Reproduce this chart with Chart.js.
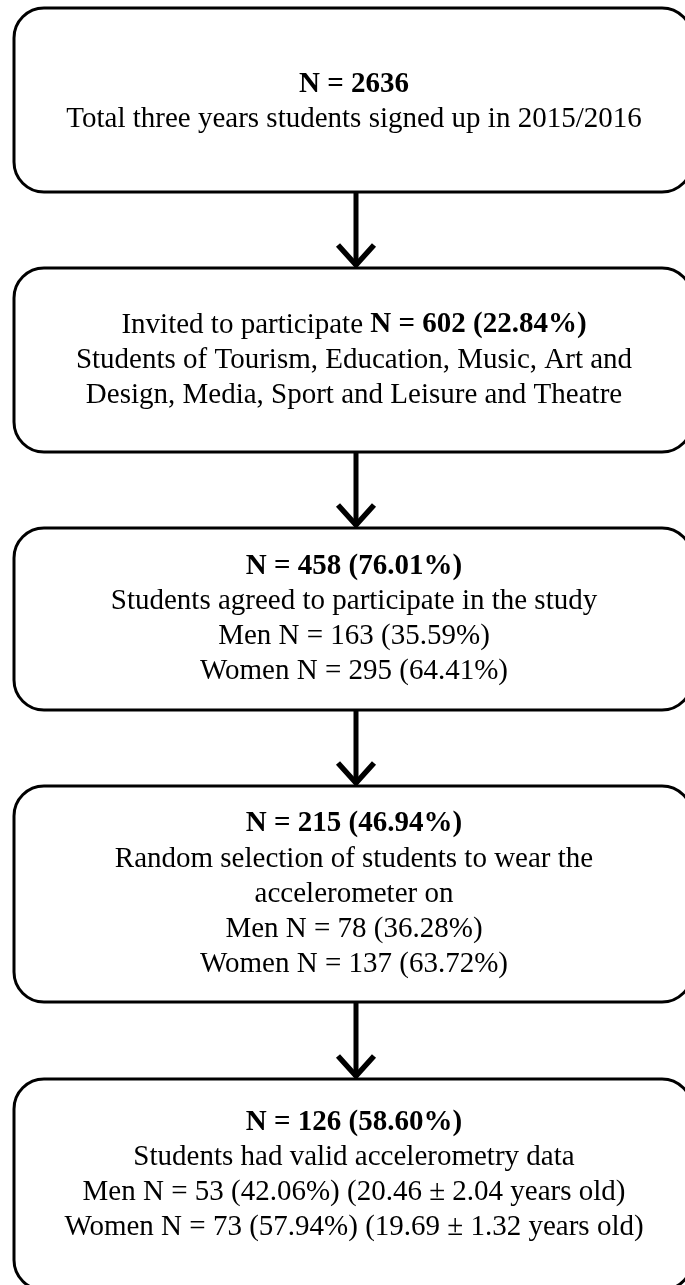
<!DOCTYPE html>
<html>
<head>
<meta charset="utf-8">
<script src="https://cdn.jsdelivr.net/npm/chart.js@4"></script>
<style>
  html, body { margin: 0; padding: 0; background: #ffffff; }
  #wrap { width: 685px; height: 1285px; position: relative; }
</style>
</head>
<body>
<div id="wrap"><canvas id="c"></canvas></div>
<script>
// ---- data ----
const stepCounts   = [2636, 602, 458, 215, 126];
const stepPercents = [null, 22.84, 76.01, 46.94, 58.60];
const stepLabels   = [
  "Total three years students signed up in 2015/2016",
  "Students of Tourism, Education, Music, Art and|Design, Media, Sport and Leisure and Theatre",
  "Students agreed to participate in the study",
  "Random selection of students to wear the|accelerometer on",
  "Students had valid accelerometry data"
];
const menCounts    = [null, null, 163, 78, 53];
const menPercents  = [null, null, 35.59, 36.28, 42.06];
const womenCounts  = [null, null, 295, 137, 73];
const womenPercents= [null, null, 64.41, 63.72, 57.94];
const menAge       = [null, null, null, null, "20.46 \u00B1 2.04"];
const womenAge     = [null, null, null, null, "19.69 \u00B1 1.32"];

// ---- layout (diagram units = pixels on the y scale) ----
const boxTop    = [8, 268, 528, 786, 1079];
const boxBottom = [192, 452, 710, 1002, 1290];
const textMid   = [102, 360, 619, 894, 1175];
const lineStep  = 35;
const boxLeft = 14, boxRight = 692, centerX = 354, arrowX = 356;

function pct(v){ return v.toFixed(2) + "%"; }

// build lines: each line = array of [text, bold]
const boxLines = stepCounts.map((n, i) => {
  const lines = [];
  const head = "N = " + n + (stepPercents[i] != null ? " (" + pct(stepPercents[i]) + ")" : "");
  const desc = stepLabels[i].split("|");
  if (i === 1) {
    lines.push([["Invited to participate ", false], [head, true]]);
  } else {
    lines.push([[head, true]]);
  }
  desc.forEach(d => lines.push([[d, false]]));
  if (menCounts[i] != null) {
    let m = "Men N = " + menCounts[i] + " (" + pct(menPercents[i]) + ")";
    let w = "Women N = " + womenCounts[i] + " (" + pct(womenPercents[i]) + ")";
    if (menAge[i]) m += " (" + menAge[i] + " years old)";
    if (womenAge[i]) w += " (" + womenAge[i] + " years old)";
    lines.push([[m, false]]);
    lines.push([[w, false]]);
  }
  return lines;
});

// arrow shafts as line datasets
const arrowSets = [];
for (let i = 0; i < boxTop.length - 1; i++) {
  arrowSets.push({
    type: 'line',
    data: [{x: arrowX, y: boxBottom[i]}, {x: arrowX, y: boxTop[i + 1] - 2}],
    borderColor: '#000', borderWidth: 5, pointRadius: 0, showLine: true,
    fill: false, tension: 0, clip: false
  });
}

const FONT = '"Liberation Serif", "Times New Roman", serif';
const fontSize = 29;

const flowPlugin = {
  id: 'flow',
  afterDatasetsDraw(chart) {
    const ctx = chart.ctx;
    const xs = chart.scales.x, ys = chart.scales.y;
    ctx.save();
    // boxes
    ctx.strokeStyle = '#000';
    ctx.lineWidth = 3;
    for (let i = 0; i < boxTop.length; i++) {
      const l = xs.getPixelForValue(boxLeft), r = xs.getPixelForValue(boxRight);
      const t = ys.getPixelForValue(boxTop[i]), b = ys.getPixelForValue(boxBottom[i]);
      const rad = 30;
      ctx.beginPath();
      ctx.moveTo(l + rad, t);
      ctx.lineTo(r - rad, t);
      ctx.arcTo(r, t, r, t + rad, rad);
      ctx.lineTo(r, b - rad);
      ctx.arcTo(r, b, r - rad, b, rad);
      ctx.lineTo(l + rad, b);
      ctx.arcTo(l, b, l, b - rad, rad);
      ctx.lineTo(l, t + rad);
      ctx.arcTo(l, t, l + rad, t, rad);
      ctx.closePath();
      ctx.stroke();
    }
    // arrowheads
    ctx.lineWidth = 5.5;
    ctx.lineJoin = 'miter';
    ctx.lineCap = 'butt';
    for (let i = 1; i < boxTop.length; i++) {
      const x = xs.getPixelForValue(arrowX);
      const tip = ys.getPixelForValue(boxTop[i]) - 3;
      ctx.beginPath();
      ctx.moveTo(x - 18, tip - 20);
      ctx.lineTo(x, tip);
      ctx.lineTo(x + 18, tip - 20);
      ctx.stroke();
    }
    // texts
    ctx.fillStyle = '#000';
    ctx.textBaseline = 'middle';
    ctx.textAlign = 'left';
    for (let i = 0; i < boxLines.length; i++) {
      const lines = boxLines[i];
      const first = textMid[i] - (lines.length - 1) * lineStep / 2;
      lines.forEach((runs, k) => {
        const y = ys.getPixelForValue(first + k * lineStep);
        let total = 0;
        const widths = runs.map(([txt, bold]) => {
          ctx.font = (bold ? 'bold ' : '') + fontSize + 'px ' + FONT;
          const w = ctx.measureText(txt).width;
          total += w;
          return w;
        });
        let x = xs.getPixelForValue(centerX) - total / 2;
        runs.forEach(([txt, bold], j) => {
          ctx.font = (bold ? 'bold ' : '') + fontSize + 'px ' + FONT;
          ctx.fillText(txt, x, y);
          x += widths[j];
        });
      });
    }
    ctx.restore();
  }
};

new Chart(document.getElementById('c'), {
  type: 'scatter',
  data: { datasets: arrowSets },
  options: {
    responsive: true,
    maintainAspectRatio: false,
    animation: false,
    events: [],
    layout: { padding: 0 },
    plugins: { legend: { display: false }, tooltip: { enabled: false } },
    scales: {
      x: { type: 'linear', min: 0, max: 685, display: false },
      y: { type: 'linear', min: 0, max: 1285, reverse: true, display: false }
    }
  },
  plugins: [flowPlugin]
});
</script>
</body>
</html>
